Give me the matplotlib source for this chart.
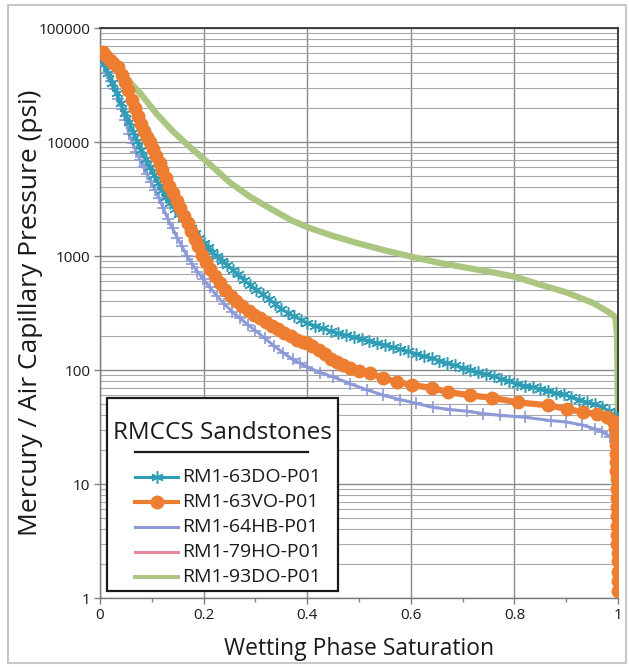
import matplotlib
matplotlib.use("Agg")
import matplotlib.pyplot as plt
from matplotlib.patches import Rectangle
from matplotlib.lines import Line2D
from matplotlib.ticker import FixedLocator, NullFormatter, LogLocator

plt.rcParams['font.family'] = ['Open Sans', 'DejaVu Sans']

# ---------------- data ----------------
series_names = ["RM1-63DO-P01", "RM1-63VO-P01", "RM1-64HB-P01", "RM1-79HO-P01", "RM1-93DO-P01"]

s_63do = [0.000, 0.008, 0.016, 0.024, 0.032, 0.040, 0.048, 0.056, 0.064, 0.072,
          0.080, 0.088, 0.096, 0.104, 0.112, 0.120, 0.128, 0.136, 0.144, 0.152,
          0.160, 0.168, 0.176, 0.184, 0.192, 0.200, 0.208, 0.216, 0.226, 0.236,
          0.246, 0.256, 0.266, 0.278, 0.290, 0.302, 0.314, 0.326, 0.338, 0.350,
          0.362, 0.375, 0.388, 0.400, 0.415, 0.430, 0.445, 0.460, 0.475, 0.490,
          0.505, 0.520, 0.535, 0.550, 0.565, 0.580, 0.595, 0.610, 0.625, 0.640,
          0.655, 0.670, 0.685, 0.700, 0.715, 0.730, 0.745, 0.760, 0.775, 0.790,
          0.805, 0.820, 0.835, 0.850, 0.865, 0.880, 0.895, 0.910, 0.925, 0.940,
          0.955, 0.970, 0.982, 0.992, 0.998, 1.000]
p_63do = [58000, 48000, 40000, 33000, 27000, 22000, 18000, 15000, 12300, 10200,
          8500, 7100, 6000, 5100, 4400, 3800, 3300, 2900, 2600, 2350,
          2150, 1950, 1760, 1590, 1430, 1300, 1190, 1090, 1000, 910,
          830, 760, 690, 617, 560, 505, 460, 420, 380, 345,
          318, 295, 275, 258, 245, 232, 220, 210, 201, 195,
          188, 180, 173, 166, 159, 152, 146, 139, 133, 127,
          121, 116, 110, 105, 101, 96, 92, 88, 84, 80,
          76, 73, 71, 68, 66, 63, 61, 58, 55, 52,
          50, 47, 44, 40, 37, 35]

s_63vo = [0.005, 0.012, 0.019, 0.026, 0.035, 0.042, 0.048, 0.054, 0.061, 0.067,
          0.073, 0.079, 0.085, 0.091, 0.097, 0.103, 0.109, 0.115, 0.120, 0.127,
          0.134, 0.141, 0.148, 0.155, 0.162, 0.169, 0.176, 0.183, 0.190, 0.197,
          0.205, 0.213, 0.222, 0.231, 0.241, 0.252, 0.263, 0.275, 0.287, 0.298,
          0.309, 0.320, 0.332, 0.344, 0.356, 0.368, 0.380, 0.392, 0.400, 0.410,
          0.422, 0.434, 0.446, 0.458, 0.470, 0.483, 0.500, 0.521, 0.546, 0.573,
          0.602, 0.641, 0.672, 0.714, 0.757, 0.807, 0.865, 0.902, 0.932, 0.959,
          0.979, 0.990, 0.995, 0.996, 0.996, 0.997, 0.997, 0.997, 0.998, 0.998,
          0.998, 0.998, 0.999, 0.999, 0.999, 0.999, 1.000, 1.000, 1.000, 1.000,
          1.000]
p_63vo = [62000, 57000, 52500, 49000, 45500, 39000, 33500, 28500, 23300, 19800,
          16800, 14400, 12500, 11100, 10000, 8700, 7500, 6500, 5680, 4850,
          4150, 3550, 3050, 2620, 2250, 1930, 1650, 1420, 1220, 1030,
          890, 770, 670, 585, 505, 450, 405, 365, 330, 305,
          286, 265, 245, 228, 212, 197, 185, 177, 172, 162,
          150, 138, 126, 117, 110, 104, 98, 94, 85, 78.5,
          74, 69.5, 64, 60, 57, 52, 49, 45.5, 42.8, 41,
          38.7, 35.5, 31, 26, 22, 18.5, 15.5, 13, 11, 9,
          7.5, 6.3, 5.2, 4.3, 3.6, 3, 2.5, 2.1, 1.7, 1.4,
          1.15]

s_64hb = [0.000, 0.007, 0.014, 0.021, 0.028, 0.035, 0.042, 0.049, 0.056, 0.063,
          0.070, 0.077, 0.084, 0.091, 0.098, 0.106, 0.114, 0.122, 0.131, 0.140,
          0.149, 0.158, 0.168, 0.178, 0.188, 0.199, 0.212, 0.226, 0.240, 0.255,
          0.270, 0.285, 0.300, 0.318, 0.336, 0.354, 0.372, 0.386, 0.400, 0.425,
          0.450, 0.482, 0.515, 0.547, 0.579, 0.611, 0.643, 0.676, 0.708, 0.740,
          0.772, 0.820, 0.870, 0.900, 0.930, 0.955, 0.970, 0.985, 0.994]
p_64hb = [55000, 47000, 40000, 34000, 29000, 24000, 19500, 15500, 11800, 9800,
          8200, 7000, 6000, 5200, 4500, 3800, 3200, 2650, 2100, 1750,
          1450, 1220, 1000, 850, 730, 630, 530, 445, 380, 325,
          285, 250, 222, 190, 163, 141, 124, 115, 106, 95,
          87, 76, 67, 60, 55, 51, 47, 45, 43.5, 41.5,
          40, 38.5, 36, 35, 33, 30.5, 28.6, 26, 24]

s_79ho = []
p_79ho = []

s_93do = [0.000, 0.020, 0.054, 0.080, 0.110, 0.140, 0.174, 0.210, 0.251, 0.290,
          0.334, 0.370, 0.403, 0.450, 0.496, 0.550, 0.604, 0.650, 0.700, 0.750,
          0.803, 0.850, 0.900, 0.952, 0.985, 0.995, 0.998, 0.999, 1.000, 1.000]
p_93do = [62000, 50000, 35000, 26000, 17500, 12500, 9000, 6500, 4400, 3300,
          2530, 2050, 1770, 1500, 1300, 1120, 980, 880, 800, 730,
          655, 560, 480, 387, 316, 290, 200, 100, 30, 1]

x_ticks = [0, 0.2, 0.4, 0.6, 0.8, 1]
x_tick_labels = ["0", "0.2", "0.4", "0.6", "0.8", "1"]
y_ticks = [1, 10, 100, 1000, 10000, 100000]
y_tick_labels = ["1", "10", "100", "1000", "10000", "100000"]

# ---------------- styles ----------------
c_teal = '#2e9db5'
c_orange = '#ed7d31'
c_blue = '#8c9ad8'
c_pink = '#e9869a'
c_green = '#aac680'

W, H = 629, 667
fig = plt.figure(figsize=(W / 100, H / 100), dpi=100)

def fx(px):
    return px / W

def fy(py):
    return 1 - py / H

ax = fig.add_axes([fx(100), fy(598), (618 - 100) / W, (598 - 28) / H])
ax.set_yscale('log')
ax.set_xlim(0, 1)
ax.set_ylim(1, 100000)

ax.set_xticks(x_ticks)
ax.set_xticklabels(x_tick_labels)
ax.xaxis.set_minor_locator(FixedLocator([0.1, 0.3, 0.5, 0.7, 0.9]))
ax.set_yticks(y_ticks)
ax.set_yticklabels(y_tick_labels)
ax.yaxis.set_minor_locator(LogLocator(base=10, subs=range(2, 10)))
ax.yaxis.set_minor_formatter(NullFormatter())
ax.grid(which='major', axis='both', color='#8a8a8a', lw=1.0, zorder=0)
ax.grid(which='minor', axis='y', color='#a8a8a8', lw=0.8, zorder=0)
ax.set_axisbelow(True)

ax.tick_params(which='major', direction='out', length=4, width=1, color='#808080',
               labelsize=11, pad=3, labelcolor='#1a1a1a')
ax.tick_params(axis='x', which='minor', direction='out', length=3, width=1, color='#808080')
ax.tick_params(axis='y', which='minor', length=0)
for side in ['left', 'bottom']:
    ax.spines[side].set_color('#7a7a7a')
    ax.spines[side].set_linewidth(1.0)
for side in ['top', 'right']:
    ax.spines[side].set_color('#333333')
    ax.spines[side].set_linewidth(1.3)

# series
ax.plot(s_93do, p_93do, color=c_green, lw=4.5, solid_capstyle='round', zorder=2)
ax.plot(s_79ho, p_79ho, color=c_pink, lw=2, zorder=2)
ax.plot(s_64hb, p_64hb, color=c_blue, lw=2.2, marker='+', ms=8, mew=1.2, zorder=3)
ax.plot(s_63do, p_63do, color=c_teal, lw=2.2, marker=(6, 2, 0), ms=9, mew=1.1, zorder=4)
ax.plot(s_63vo, p_63vo, color=c_orange, lw=4.5, marker='o', ms=9, mec=c_orange, zorder=5)

ax.set_xlabel("Wetting Phase Saturation", fontsize=16.5, color='#1a1a1a', labelpad=10)
ax.set_ylabel("Mercury / Air Capillary Pressure (psi)", fontsize=19, color='#1a1a1a',
              va='center')
ax.yaxis.set_label_coords((31 - 100) / 518, 0.5)

# outer frame
fig.patches.append(Rectangle((fx(8), fy(663)), (626 - 8) / W, (663 - 5) / H,
                             transform=fig.transFigure, fill=False,
                             edgecolor='#c8c8c8', lw=1.5, zorder=0))

# legend (manual)
tf = fig.transFigure
ax.add_patch(Rectangle((fx(107), fy(591)), (338 - 107) / W, (591 - 398) / H,
                       transform=tf, facecolor='white', edgecolor='#1a1a1a',
                       lw=1.6, zorder=10, clip_on=False))
ax.text(fx(222), fy(433), "RMCCS Sandstones", transform=tf, fontsize=17.5,
        ha='center', va='center', color='#1a1a1a', zorder=11)
ax.add_line(Line2D([fx(135), fx(308)], [fy(452), fy(452)], transform=tf,
                   color='#1a1a1a', lw=1.6, zorder=11, clip_on=False))

leg_styles = [
    dict(color=c_teal, lw=2.2, marker=(6, 2, 0), ms=9, mew=1.1),
    dict(color=c_orange, lw=3.0, marker='o', ms=9),
    dict(color=c_blue, lw=2.2),
    dict(color=c_pink, lw=2.2),
    dict(color=c_green, lw=2.8),
]
for i, (name, st) in enumerate(zip(series_names, leg_styles)):
    yy = 477 + 25 * i
    ln = Line2D([fx(135), fx(178)], [fy(yy), fy(yy)], transform=tf,
                zorder=11, clip_on=False, color=st['color'], lw=st['lw'])
    ax.add_line(ln)
    if 'marker' in st:
        mk = Line2D([fx(156.5)], [fy(yy)], transform=tf, zorder=12, clip_on=False,
                    linestyle='none', marker=st['marker'], ms=st['ms'],
                    mew=st.get('mew', 1.0), color=st['color'])
        ax.add_line(mk)
    ax.text(fx(182), fy(yy), name, transform=tf, fontsize=14, ha='left',
            va='center', color='#1a1a1a', zorder=11)

fig.savefig("out.png", dpi=100, facecolor='white')
